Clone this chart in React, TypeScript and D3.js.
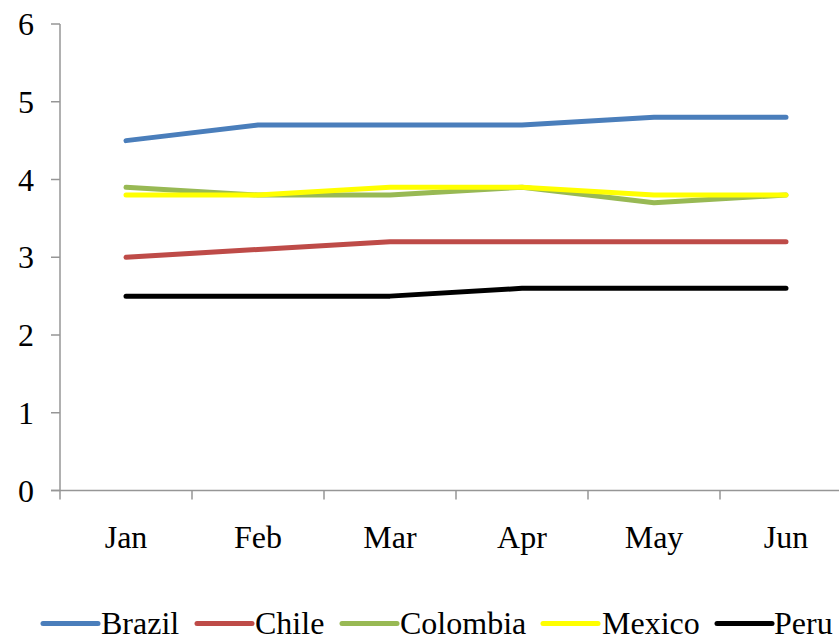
import React from "react";
import * as d3 from "d3";

const months = ["Jan", "Feb", "Mar", "Apr", "May", "Jun"];
const brazil = [4.5, 4.7, 4.7, 4.7, 4.8, 4.8];
const chile = [3.0, 3.1, 3.2, 3.2, 3.2, 3.2];
const colombia = [3.9, 3.8, 3.8, 3.9, 3.7, 3.8];
const mexico = [3.8, 3.8, 3.9, 3.9, 3.8, 3.8];
const peru = [2.5, 2.5, 2.5, 2.6, 2.6, 2.6];
const yTicks = [0, 1, 2, 3, 4, 5, 6];

const seriesList = [
  { name: "Brazil", values: brazil, color: "#4a7ebb" },
  { name: "Chile", values: chile, color: "#be4b48" },
  { name: "Colombia", values: colombia, color: "#98b954" },
  { name: "Mexico", values: mexico, color: "#ffff00" },
  { name: "Peru", values: peru, color: "#000000" },
];

const W = 839;
const H = 637;
const left = 60;
const top = 24;
const bottom = 490.5;
const band = 132;

export default function App() {
  const x = d3
    .scaleBand<string>()
    .domain(months)
    .range([left, left + band * months.length]);
  const y = d3.scaleLinear().domain([0, 6]).range([bottom, top]);
  const line = d3
    .line<number>()
    .x((_, i) => (x(months[i]) as number) + x.bandwidth() / 2)
    .y((v) => y(v));

  const axisColor = "#969696";
  const font = "'Liberation Serif', 'Times New Roman', serif";

  // legend swatch start / label start
  const legendItems = [
    { lx: 43, tx: 101 },
    { lx: 197, tx: 255 },
    { lx: 342, tx: 400 },
    { lx: 543, tx: 602 },
    { lx: 717, tx: 774 },
  ];

  return (
    <svg
      width={W}
      height={H}
      style={{ position: "absolute", left: 0, top: 0, background: "#fff" }}
      fontFamily={font}
    >
      {/* y axis */}
      <line x1={left} x2={left} y1={top} y2={bottom} stroke={axisColor} strokeWidth={1.5} />
      {yTicks.map((t) => (
        <g key={t}>
          <line x1={left - 9} x2={left} y1={y(t)} y2={y(t)} stroke={axisColor} strokeWidth={1.5} />
          <text x={34} y={y(t)} dy="0.35em" textAnchor="end" fontSize={32} fill="#000">
            {t}
          </text>
        </g>
      ))}
      {/* x axis */}
      <line x1={left - 9} x2={W} y1={bottom} y2={bottom} stroke={axisColor} strokeWidth={1.5} />
      {months.map((m, i) => (
        <line
          key={"t" + i}
          x1={x(m) as number}
          x2={x(m) as number}
          y1={bottom}
          y2={bottom + 9}
          stroke={axisColor}
          strokeWidth={1.5}
        />
      ))}
      {months.map((m) => (
        <text
          key={m}
          x={(x(m) as number) + x.bandwidth() / 2}
          y={548}
          textAnchor="middle"
          fontSize={32}
          fill="#000"
        >
          {m}
        </text>
      ))}
      {/* series */}
      {seriesList.map((s) => (
        <path
          key={s.name}
          d={line(s.values) || ""}
          fill="none"
          stroke={s.color}
          strokeWidth={5}
          strokeLinecap="round"
          strokeLinejoin="round"
        />
      ))}
      {/* legend */}
      {seriesList.map((s, i) => (
        <g key={"lg" + s.name}>
          <line
            x1={legendItems[i].lx}
            x2={legendItems[i].lx + 55}
            y1={623.5}
            y2={623.5}
            stroke={s.color}
            strokeWidth={5}
            strokeLinecap="round"
          />
          <text x={legendItems[i].tx} y={634} fontSize={32} fill="#000">
            {s.name}
          </text>
        </g>
      ))}
    </svg>
  );
}
